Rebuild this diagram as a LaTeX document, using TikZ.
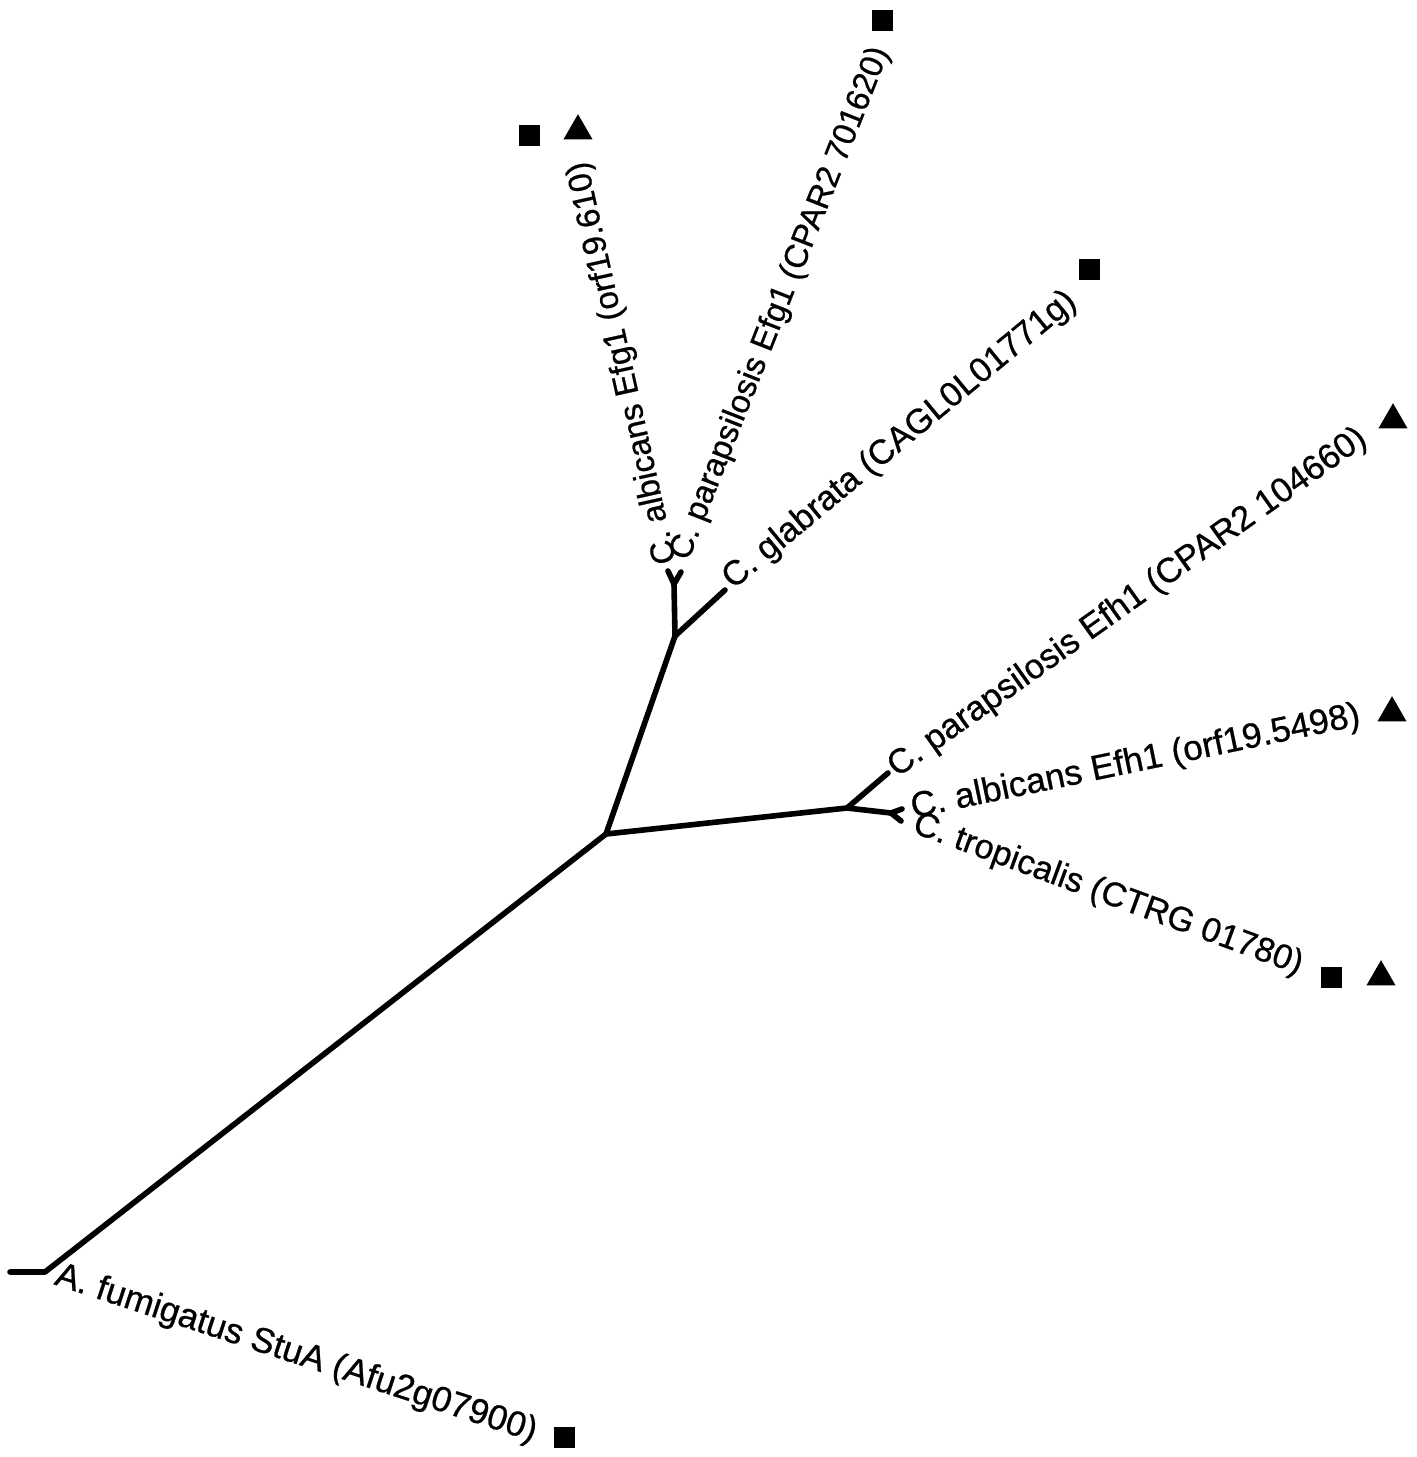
\documentclass[tikz,border=0pt]{standalone}
\usepackage{fontspec}
\setmainfont{Liberation Sans}[FakeBold=0.7]
\usetikzlibrary{shapes.geometric}
\begin{document}
\begin{tikzpicture}[x=0.5pt,y=-0.5pt,
  branch/.style={line width=2.8pt, line join=round, line cap=round},
  lab/.style={inner sep=0pt, anchor=base west, font=\fontsize{#1}{#1}\selectfont},
  sq/.style={fill=black, minimum size=10.5pt, inner sep=0pt},
  tri/.style={regular polygon, regular polygon sides=3, fill=black, minimum size=16.8pt, inner sep=0pt}]
\useasboundingbox[fill=white] (0,0) rectangle (1417,1457);
% tree coordinates
\coordinate (root) at (10,1272);
\coordinate (r1) at (45,1272);
\coordinate (A) at (606,834);
\coordinate (B) at (675,636);
\coordinate (E) at (674,584);
\coordinate (e1) at (668,571);
\coordinate (e2) at (681,572);
\coordinate (gl) at (725,590);
\coordinate (C) at (847,808);
\coordinate (pe) at (888,773);
\coordinate (D) at (891,813);
\coordinate (d1) at (902,809);
\coordinate (d2) at (901,821);
% branches
\draw[branch] (root) -- (r1) -- (A);
\draw[branch] (A) -- (B) -- (E);
\draw[branch] (e1) -- (E) -- (e2);
\draw[branch] (B) -- (gl);
\draw[branch] (A) -- (C) -- (D);
\draw[branch] (C) -- (pe);
\draw[branch] (d1) -- (D) -- (d2);
% labels
\node[lab=16.5pt, rotate=102.5] (l1) at (676,562) {C. albicans Efg1 (orf19.610)};
\node[lab=16.4pt, rotate=68.5] (l2) at (688,562) {C. parapsilosis Efg1 (CPAR2 701620)};
\node[lab=17.2pt, rotate=39.6] (l3) at (733,590) {C. glabrata (CAGL0L01771g)};
\node[lab=17.3pt, rotate=35.4] (l4) at (897,778) {C. parapsilosis Efh1 (CPAR2 104660)};
\node[lab=17.6pt, rotate=11.7] (l5) at (913,818) {C. albicans Efh1 (orf19.5498)};
\node[lab=17.1pt, rotate=-20.2] (l6) at (911,832) {C. tropicalis (CTRG 01780)};
\node[lab=17.6pt, rotate=-18.2] (l7) at (53,1284) {A. fumigatus StuA (Afu2g07900)};
% markers
\node[sq] (s1) at (529,135) {};
\node[tri] (t1) at (578,131) {};
\node[sq] (s2) at (882,20) {};
\node[sq] (s3) at (1089,269) {};
\node[tri] (t4) at (1393,420) {};
\node[tri] (t5) at (1392,713) {};
\node[sq] (s6) at (1331,977) {};
\node[tri] (t6) at (1381,977) {};
\node[sq] (s7) at (564,1437) {};
\end{tikzpicture}
\end{document}
